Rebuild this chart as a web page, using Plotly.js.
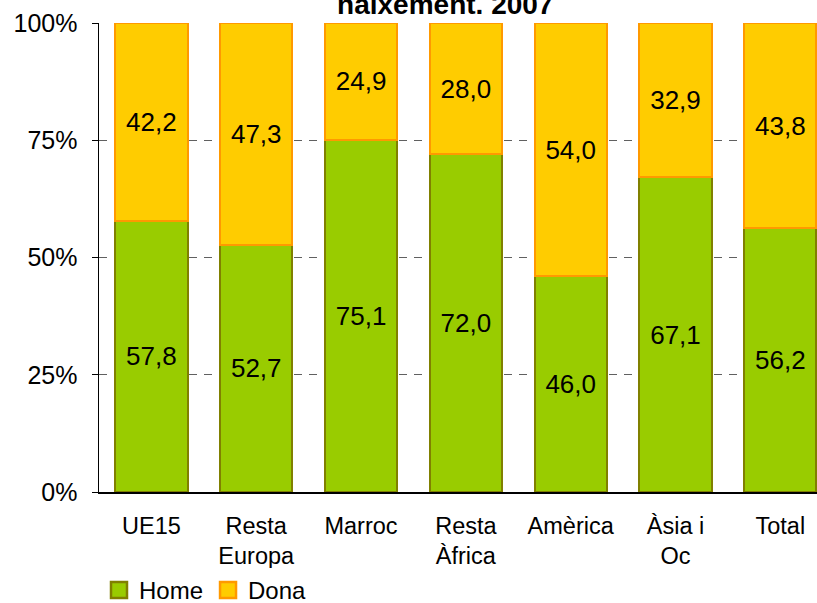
<!DOCTYPE html>
<html>
<head>
<meta charset="utf-8">
<script src="https://cdn.plot.ly/plotly-3.0.1.min.js"></script>
<style>html,body{margin:0;padding:0;background:#fff;}#chart{width:817px;height:603px;}</style>
</head>
<body>
<div id="chart"></div>
<script>
const categories = ["UE15", "Resta<br>Europa", "Marroc", "Resta<br>Àfrica", "Amèrica", "Àsia i<br>Oc", "Total"];
const homeValues = [57.8, 52.7, 75.1, 72.0, 46.0, 67.1, 56.2];
const donaValues = [42.2, 47.3, 24.9, 28.0, 54.0, 32.9, 43.8];
const yTickValues = [0, 25, 50, 75, 100];
const yTickLabels = ["0%", "25%", "50%", "75%", "100%"];
const titleText = "naixement. 2007";

const FONT = "Liberation Sans, Arial, Helvetica, sans-serif";
const fmt = v => v.toFixed(1).replace('.', ',');
const HOME = {fill: '#99CC00', line: '#808000'};
const DONA = {fill: '#FFCC00', line: '#FF9900'};

const traces = [
  {
    type: 'bar', name: 'Home', x: categories, y: homeValues, showlegend: false,
    text: homeValues.map(fmt), textposition: 'inside', insidetextanchor: 'middle',
    textangle: 0, constraintext: 'none',
    textfont: {family: FONT, size: 26, color: '#000'},
    marker: {color: HOME.fill, line: {color: HOME.line, width: 2}},
    hoverinfo: 'skip'
  },
  {
    type: 'bar', name: 'Dona', x: categories, y: donaValues, showlegend: false,
    text: donaValues.map(fmt), textposition: 'inside', insidetextanchor: 'middle',
    textangle: 0, constraintext: 'none',
    textfont: {family: FONT, size: 26, color: '#000'},
    marker: {color: DONA.fill, line: {color: DONA.line, width: 2}},
    hoverinfo: 'skip'
  },
  {
    type: 'scatter', mode: 'markers', name: 'Home', x: [null], y: [null],
    marker: {symbol: 'square', size: 16, color: HOME.fill, line: {color: HOME.line, width: 2.5}},
    hoverinfo: 'skip'
  },
  {
    type: 'scatter', mode: 'markers', name: 'Dona', x: [null], y: [null],
    marker: {symbol: 'square', size: 16, color: DONA.fill, line: {color: DONA.line, width: 2.5}},
    hoverinfo: 'skip'
  }
];

const layout = {
  width: 817, height: 603,
  margin: {l: 99, r: 0, t: 23, b: 111, pad: 0},
  paper_bgcolor: '#fff', plot_bgcolor: '#fff',
  barmode: 'stack', bargap: 0.31,
  font: {family: FONT, size: 23, color: '#000'},
  showlegend: true,
  title: {
    text: '<b>' + titleText + '</b>',
    font: {family: FONT, size: 28, color: '#000'},
    xref: 'container', x: 0.545, xanchor: 'center',
    yref: 'container', y: 0.976, yanchor: 'bottom'
  },
  xaxis: {
    type: 'category', range: [-0.5, 6.35],
    showline: true, linecolor: '#000', linewidth: 1.5,
    ticks: '', showgrid: false, zeroline: false,
    tickfont: {family: FONT, size: 23.5, color: '#000'},
    ticklabelstandoff: 12, fixedrange: true, automargin: false
  },
  yaxis: {
    range: [0, 100], tickmode: 'array', tickvals: yTickValues, ticktext: yTickLabels,
    showline: true, linecolor: '#000', linewidth: 1.5,
    ticks: 'outside', ticklen: 6, tickcolor: '#000', tickwidth: 1,
    showgrid: true, gridcolor: '#606060', gridwidth: 1, griddash: '8px,7px',
    zeroline: false,
    tickfont: {family: FONT, size: 25, color: '#000'},
    ticklabelstandoff: 9, fixedrange: true, automargin: false
  },
  legend: {
    orientation: 'h', xref: 'paper', x: 0.0, xanchor: 'left',
    yref: 'container', y: 0.021, yanchor: 'middle',
    font: {family: FONT, size: 24, color: '#000'},
    traceorder: 'normal', itemclick: false, itemdoubleclick: false,
    itemwidth: 30
  },
  hovermode: false
};

Plotly.newPlot('chart', traces, layout, {displayModeBar: false, staticPlot: true});
</script>
</body>
</html>
